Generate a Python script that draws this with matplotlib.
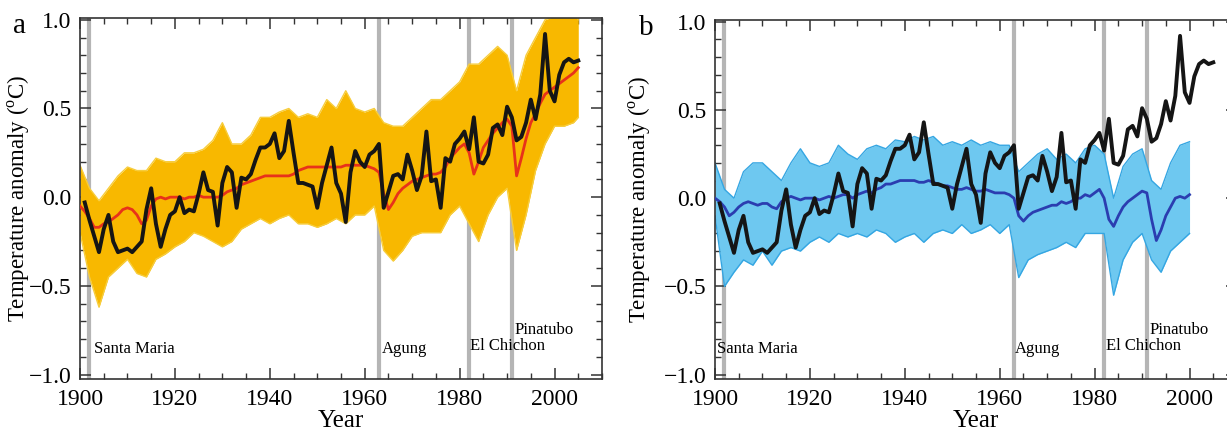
import matplotlib
matplotlib.use("Agg")
import matplotlib.pyplot as plt
import numpy as np
from matplotlib.ticker import MultipleLocator

plt.rcParams['font.family'] = ['Liberation Serif', 'DejaVu Serif']
plt.rcParams['mathtext.fontset'] = 'custom'
plt.rcParams['mathtext.rm'] = 'Liberation Serif'

# observed global mean temperature anomaly (black), 1901-2005
obs_years = list(range(1901, 2006))
obs = [-0.03, -0.13, -0.22, -0.31, -0.18, -0.10, -0.25, -0.31, -0.30, -0.29,
       -0.31, -0.28, -0.25, -0.07, 0.05, -0.15, -0.28, -0.18, -0.10, -0.08,
       0.00, -0.09, -0.07, -0.08, 0.02, 0.14, 0.04, 0.03, -0.16, 0.08,
       0.17, 0.14, -0.06, 0.11, 0.10, 0.13, 0.21, 0.28, 0.28, 0.30,
       0.36, 0.22, 0.26, 0.43, 0.25, 0.08, 0.08, 0.07, 0.06, -0.06,
       0.08, 0.18, 0.28, 0.08, 0.02, -0.14, 0.14, 0.26, 0.20, 0.17,
       0.24, 0.26, 0.30, -0.06, 0.03, 0.12, 0.13, 0.10, 0.24, 0.15,
       0.04, 0.12, 0.37, 0.09, 0.10, -0.06, 0.22, 0.20, 0.30, 0.33,
       0.37, 0.27, 0.45, 0.20, 0.19, 0.24, 0.39, 0.41, 0.35, 0.51,
       0.45, 0.32, 0.34, 0.42, 0.55, 0.44, 0.58, 0.92, 0.60, 0.54,
       0.69, 0.76, 0.78, 0.76, 0.77]

# panel a: all-forcing multi-model mean (red), 1900-2005
all_years = list(range(1900, 2006))
all_mean = [-0.05, -0.08, -0.12, -0.17, -0.17, -0.15, -0.14, -0.12, -0.10, -0.07,
            -0.06, -0.07, -0.10, -0.15, -0.13, -0.05, -0.01, 0.00, -0.01, 0.00,
            0.00, 0.00, -0.01, 0.00, 0.00, 0.01, 0.00, 0.00, 0.00, 0.00,
            0.01, 0.03, 0.04, 0.05, 0.07, 0.08, 0.09, 0.10, 0.11, 0.12,
            0.12, 0.12, 0.12, 0.12, 0.12, 0.13, 0.15, 0.16, 0.17, 0.17,
            0.17, 0.17, 0.17, 0.17, 0.17, 0.17, 0.18, 0.18, 0.18, 0.18,
            0.18, 0.17, 0.16, 0.14, 0.02, -0.07, -0.03, 0.02, 0.05, 0.07,
            0.09, 0.10, 0.11, 0.12, 0.13, 0.13, 0.14, 0.17, 0.22, 0.25,
            0.28, 0.30, 0.25, 0.13, 0.20, 0.28, 0.32, 0.36, 0.39, 0.42,
            0.44, 0.40, 0.12, 0.22, 0.33, 0.42, 0.47, 0.53, 0.58, 0.60,
            0.62, 0.64, 0.66, 0.68, 0.70, 0.73]

# panel a: spread of individual simulations (yellow), every 2 years
all_env_years = list(range(1900, 2005, 2)) + [2005]
all_upper = [0.18, 0.05, -0.02, 0.05, 0.12, 0.17, 0.15, 0.15, 0.22, 0.20,
             0.20, 0.25, 0.25, 0.27, 0.32, 0.42, 0.30, 0.30, 0.35, 0.45,
             0.45, 0.48, 0.50, 0.45, 0.47, 0.45, 0.55, 0.50, 0.60, 0.50,
             0.48, 0.50, 0.42, 0.40, 0.40, 0.45, 0.50, 0.55, 0.55, 0.60,
             0.65, 0.75, 0.75, 0.80, 0.85, 0.80, 0.60, 0.80, 0.90, 1.00,
             1.02, 1.05, 1.05, 1.00]
all_lower = [-0.20, -0.45, -0.62, -0.45, -0.40, -0.35, -0.43, -0.45, -0.35, -0.32,
             -0.28, -0.25, -0.20, -0.22, -0.25, -0.28, -0.25, -0.18, -0.15, -0.12,
             -0.15, -0.12, -0.10, -0.15, -0.15, -0.17, -0.15, -0.12, -0.15, -0.10,
             -0.10, -0.05, -0.30, -0.36, -0.30, -0.22, -0.20, -0.20, -0.20, -0.10,
             -0.05, -0.15, -0.25, -0.10, 0.00, 0.05, -0.30, -0.10, 0.15, 0.30,
             0.40, 0.40, 0.42, 0.45]

# panel b: natural-forcing multi-model mean (dark blue), 1900-2000
nat_years = list(range(1900, 2001))
nat_mean = [0.00, -0.02, -0.05, -0.10, -0.08, -0.05, -0.03, -0.02, -0.03, -0.04,
            -0.03, -0.03, -0.05, -0.06, -0.02, 0.00, 0.01, 0.00, -0.01, 0.00,
            0.00, 0.00, -0.01, 0.00, 0.01, 0.00, 0.01, 0.02, 0.02, 0.00,
            0.02, 0.03, 0.04, 0.03, 0.05, 0.06, 0.08, 0.08, 0.09, 0.10,
            0.10, 0.10, 0.10, 0.09, 0.09, 0.10, 0.09, 0.08, 0.07, 0.07,
            0.06, 0.05, 0.05, 0.06, 0.05, 0.04, 0.04, 0.05, 0.04, 0.03,
            0.03, 0.03, 0.02, 0.00, -0.10, -0.13, -0.10, -0.08, -0.07, -0.06,
            -0.05, -0.04, -0.04, -0.02, -0.03, -0.02, 0.00, 0.00, 0.02, 0.01,
            0.03, 0.05, 0.00, -0.12, -0.16, -0.10, -0.05, -0.02, 0.00, 0.02,
            0.04, 0.03, -0.12, -0.24, -0.18, -0.10, -0.05, 0.00, 0.01, 0.00,
            0.02]

# panel b: spread of individual simulations (light blue), every 2 years
nat_env_years = list(range(1900, 2001, 2))
nat_upper = [0.20, 0.05, 0.00, 0.15, 0.20, 0.20, 0.15, 0.10, 0.20, 0.28,
             0.20, 0.18, 0.20, 0.30, 0.25, 0.22, 0.28, 0.30, 0.28, 0.33,
             0.32, 0.35, 0.33, 0.35, 0.30, 0.32, 0.30, 0.33, 0.30, 0.32,
             0.30, 0.30, 0.15, 0.20, 0.25, 0.28, 0.22, 0.25, 0.20, 0.28,
             0.30, 0.25, 0.00, 0.18, 0.25, 0.28, 0.10, 0.05, 0.20, 0.30,
             0.32]
nat_lower = [-0.10, -0.50, -0.42, -0.35, -0.38, -0.30, -0.38, -0.30, -0.28, -0.30,
             -0.25, -0.22, -0.25, -0.20, -0.22, -0.20, -0.22, -0.18, -0.20, -0.25,
             -0.22, -0.20, -0.25, -0.20, -0.18, -0.20, -0.15, -0.20, -0.18, -0.15,
             -0.20, -0.15, -0.45, -0.35, -0.32, -0.30, -0.28, -0.25, -0.28, -0.20,
             -0.20, -0.20, -0.55, -0.35, -0.25, -0.20, -0.35, -0.42, -0.30, -0.25,
             -0.20]

volcano_names = ['Santa Maria', 'Agung', 'El Chichon', 'Pinatubo']
volcano_years = [1902, 1963, 1982, 1991]
label_x_a = [1903.0, 1963.6, 1982.1, 1991.6]
label_x_b = [1900.5, 1963.2, 1982.5, 1991.6]
label_y = [-0.88, -0.88, -0.86, -0.77]

fig = plt.figure(figsize=(12.27, 4.34), dpi=100)
ax_a = fig.add_axes([80/1227, 55/434, 522/1227, 361/434])
ax_b = fig.add_axes([715/1227, 55/434, 522/1227, 359/434])


def style_axes(ax, ylab_x):
    ax.set_xlim(1900, 2010)
    ax.set_ylim(-1.025, 1.01)
    ax.xaxis.set_major_locator(MultipleLocator(20))
    ax.xaxis.set_minor_locator(MultipleLocator(5))
    ax.yaxis.set_major_locator(MultipleLocator(0.5))
    ax.yaxis.set_minor_locator(MultipleLocator(0.1))
    ax.set_xticks([1900, 1920, 1940, 1960, 1980, 2000])
    ax.set_yticks([-1.0, -0.5, 0.0, 0.5, 1.0])
    ax.set_yticklabels(['\u22121.0', '\u22120.5', '0.0', '0.5', '1.0'])
    ax.tick_params(which='both', direction='in', top=True, right=True,
                   color='#333333', labelsize=17)
    ax.tick_params(which='major', length=8, width=1.1)
    ax.tick_params(which='minor', length=4, width=1.0)
    ax.tick_params(axis='x', pad=7)
    ax.tick_params(axis='y', pad=6)
    for s in ax.spines.values():
        s.set_color('#333333')
        s.set_linewidth(1.2)
    ax.set_xlabel('Year', fontsize=18, labelpad=0)
    ax.set_ylabel('Temperature anomaly ($^{\\mathrm{o}}$C)', fontsize=16.5)
    ax.yaxis.set_label_coords(ylab_x, 0.5)
    for vy in volcano_years:
        ax.axvline(vy, color='#b5b5b5', lw=3, zorder=1)


style_axes(ax_a, -0.092)
ax_a.fill_between(all_env_years, all_lower, all_upper, color='#f8b800', lw=0, zorder=2)
ax_a.plot(all_env_years, all_upper, color='#f7cd3c', lw=1.0, zorder=2)
ax_a.plot(all_env_years, all_lower, color='#f7cd3c', lw=1.0, zorder=2)
ax_a.plot(all_years, all_mean, color='#e8321a', lw=2.0, zorder=3)
ax_a.plot(obs_years, obs, color='#151515', lw=2.8, zorder=4)
for name, lx, ly in zip(volcano_names, label_x_a, label_y):
    ax_a.text(lx, ly, name, fontsize=12, va='baseline', ha='left', zorder=5)

style_axes(ax_b, -0.119)
ax_b.fill_between(nat_env_years, nat_lower, nat_upper, color='#6ec8f0', lw=0, zorder=2)
ax_b.plot(nat_env_years, nat_upper, color='#35a6e2', lw=1.0, zorder=2)
ax_b.plot(nat_env_years, nat_lower, color='#35a6e2', lw=1.0, zorder=2)
ax_b.plot(nat_years, nat_mean, color='#2b3db0', lw=2.0, zorder=3)
ax_b.plot(obs_years, obs, color='#151515', lw=2.8, zorder=4)
for name, lx, ly in zip(volcano_names, label_x_b, label_y):
    ax_b.text(lx, ly, name, fontsize=12, va='baseline', ha='left', zorder=5)

fig.text(19/1227, 1 - 26/434, 'a', fontsize=21, ha='center', va='center')
fig.text(646/1227, 1 - 28/434, 'b', fontsize=21, ha='center', va='center')

fig.savefig('out.png', dpi=100)
